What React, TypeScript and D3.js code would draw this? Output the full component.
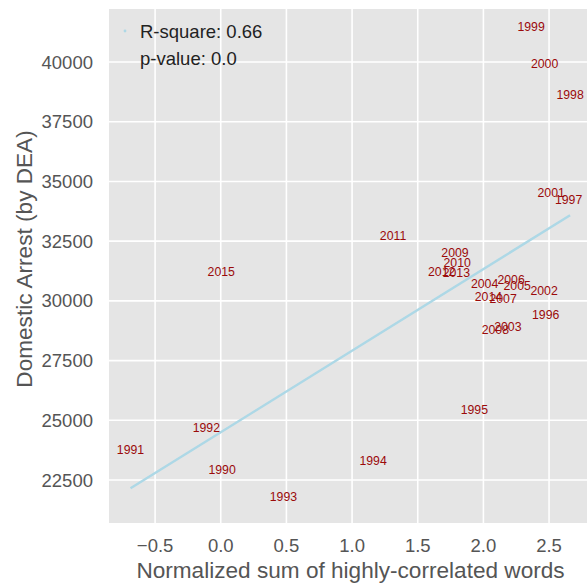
import React from "react";
import * as d3 from "d3";

const years = [
  1990, 1991, 1992, 1993, 1994, 1995, 1996, 1997, 1998, 1999, 2000, 2001, 2002,
  2003, 2004, 2005, 2006, 2007, 2008, 2009, 2010, 2011, 2012, 2013, 2014, 2015,
];
const wordScore = [
  0.01, -0.687, -0.11, 0.477, 1.16, 1.931, 2.474, 2.649, 2.66, 2.363, 2.466, 2.516, 2.462,
  2.186, 2.009, 2.257, 2.211, 2.15, 2.091, 1.784, 1.8, 1.312, 1.682, 1.794, 2.038, 0.004,
];
const arrests = [
  22739, 23605, 24510, 21621, 23116, 25251, 29257, 34072, 38468, 41298, 39766, 34348, 30245,
  28738, 30555, 30442, 30723, 29927, 28600, 31836, 31418, 32548, 31041, 31016, 29994, 31041,
];
const xTicks = [-0.5, 0.0, 0.5, 1.0, 1.5, 2.0, 2.5];
const yTicks = [22500, 25000, 27500, 30000, 32500, 35000, 37500, 40000];
const legendLabels = ["R-square: 0.66", "p-value: 0.0"];
const xTitle = "Normalized sum of highly-correlated words";
const yTitle = "Domestic Arrest (by DEA)";

const FONT = "'Liberation Sans', Arial, Helvetica, sans-serif";

export default function App() {
  const W = 587;
  const H = 584;
  const left = 109;
  const right = 592;
  const top = 9;
  const bottom = 523;

  const x = d3.scaleLinear().domain([-0.851, 2.827]).range([left, right]);
  const y = d3.scaleLinear().domain([20700, 42220]).range([bottom, top]);

  const mx = d3.mean(wordScore) as number;
  const my = d3.mean(arrests) as number;
  let sxy = 0;
  let sxx = 0;
  wordScore.forEach((v, i) => {
    sxy += (v - mx) * (arrests[i] - my);
    sxx += (v - mx) * (v - mx);
  });
  const slope = sxy / sxx;
  const icpt = my - slope * mx;
  const [x0, x1] = d3.extent(wordScore) as [number, number];
  const fitPath = d3.line()([
    [x(x0), y(icpt + slope * x0)],
    [x(x1), y(icpt + slope * x1)],
  ]) as string;

  const fmtX = (v: number) => (v < 0 ? "\u2212" : "") + Math.abs(v).toFixed(1);

  return (
    <div style={{ position: "fixed", left: 0, top: 0, width: W, height: H, background: "#fff" }}>
      <svg width={W} height={H} style={{ display: "block", overflow: "hidden" }} fontFamily={FONT}>
        <defs>
          <clipPath id="plotclip">
            <rect x={left} y={top} width={right - left} height={bottom - top} />
          </clipPath>
        </defs>
        <rect x={left} y={top} width={right - left} height={bottom - top} fill="#E5E5E5" />
        <g clipPath="url(#plotclip)">
          {xTicks.map((t) => (
            <line key={"gx" + t} x1={x(t)} x2={x(t)} y1={top} y2={bottom} stroke="#fff" strokeWidth={1.6} />
          ))}
          {yTicks.map((t) => (
            <line key={"gy" + t} x1={left} x2={right} y1={y(t)} y2={y(t)} stroke="#fff" strokeWidth={1.6} />
          ))}
          <path d={fitPath} stroke="#ADD8E6" strokeWidth={2.5} fill="none" />
          {years.map((yr, i) => (
            <text
              key={yr}
              x={x(wordScore[i])}
              y={y(arrests[i])}
              textAnchor="middle"
              fontSize={12.3}
              fill="#9B0A0A"
            >
              {yr}
            </text>
          ))}
        </g>
        {xTicks.map((t) => (
          <text key={"tx" + t} x={x(t)} y={552} textAnchor="middle" fontSize={18.5} fill="#555">
            {fmtX(t)}
          </text>
        ))}
        {yTicks.map((t) => (
          <text key={"ty" + t} x={93} y={y(t) + 6.6} textAnchor="end" fontSize={18.5} fill="#555">
            {t}
          </text>
        ))}
        <text x={(left + right) / 2} y={578} textAnchor="middle" fontSize={22.6} fill="#555">
          {xTitle}
        </text>
        <text
          transform={`translate(31.5, 259) rotate(-90)`}
          textAnchor="middle"
          fontSize={22.6}
          fill="#555"
        >
          {yTitle}
        </text>
        <circle cx={125} cy={31} r={1.4} fill="#ADD8E6" />
        {legendLabels.map((l, i) => (
          <text key={l} x={140} y={38 + i * 27} fontSize={18.5} fill="#222">
            {l}
          </text>
        ))}
      </svg>
    </div>
  );
}
